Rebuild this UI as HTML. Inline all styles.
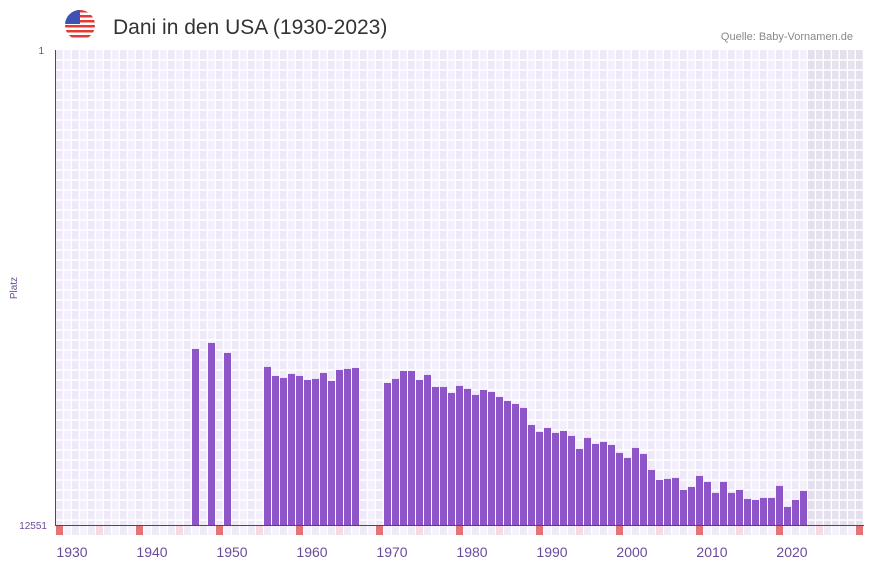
<!DOCTYPE html>
<html><head><meta charset="utf-8"><style>
body{margin:0;background:#fff;font-family:"Liberation Sans",sans-serif;}
#w{position:relative;width:873px;height:567px;overflow:hidden;}
</style></head><body>
<div id="w">
<svg id="c" width="873" height="567" xmlns="http://www.w3.org/2000/svg">
  <g>
    <clipPath id="fc"><circle cx="80" cy="25" r="15"/></clipPath>
    <g clip-path="url(#fc)">
      <rect x="65" y="10" width="30" height="30" fill="#fff"/>
      <rect x="65" y="10" width="30" height="2.5" fill="#e53935"/>
      <rect x="65" y="15" width="30" height="2.5" fill="#e53935"/>
      <rect x="65" y="20" width="30" height="2.5" fill="#e53935"/>
      <rect x="65" y="25" width="30" height="2.5" fill="#e53935"/>
      <rect x="65" y="30" width="30" height="2.5" fill="#e53935"/>
      <rect x="65" y="35" width="30" height="2.5" fill="#e53935"/>
      <rect x="65" y="10" width="15" height="14" fill="#3f51b5"/>
    </g>
  </g>
  <text x="113" y="34" font-size="21" fill="#333">Dani in den USA (1930-2023)</text>
  <text x="853" y="40" font-size="11" fill="#888" text-anchor="end">Quelle: Baby-Vornamen.de</text>
  <g id="grid"></g>
  <g id="strip"></g>
  <g id="bars"></g>
  <line x1="55.5" y1="50" x2="55.5" y2="526" stroke="#5e3592" stroke-width="1"/>
  <line x1="55" y1="525.5" x2="864" y2="525.5" stroke="#5e3592" stroke-width="1"/>
  <text x="44" y="54" font-size="10" fill="#6a4a9a" text-anchor="end">1</text>
  <text x="47" y="529" font-size="10" fill="#6a4a9a" text-anchor="end">12551</text>
  <text x="0" y="0" font-size="10" fill="#6a4a9a" text-anchor="middle" transform="translate(17,288) rotate(-90)">Platz</text>
  <g id="xt"></g>
</svg>
</div>
<script>
const years=[1946,1948,1950,1955,1956,1957,1958,1959,1960,1961,1962,1963,1964,1965,1966,
1970,1971,1972,1973,1974,1975,1976,1977,1978,1979,1980,1981,1982,1983,1984,1985,1986,1987,1988,1989,
1990,1991,1992,1993,1994,1995,1996,1997,1998,1999,2000,2001,2002,2003,2004,2005,2006,2007,2008,2009,
2010,2011,2012,2013,2014,2015,2016,2017,2018,2019,2020,2021,2022];
const ranks=[7900,7741,8005,8375,8613,8666,8560,8613,8719,8692,8534,8745,8454,8428,8402,
8798,8692,8481,8481,8719,8587,8904,8904,9062,8877,8956,9115,8983,9036,9168,9273,9353,9458,9908,10092,
9987,10119,10066,10198,10542,10251,10409,10357,10436,10647,10779,10515,10674,11096,11361,11334,11308,11625,11546,11255,
11413,11704,11413,11704,11625,11863,11889,11836,11836,11519,12074,11889,11651];
const xTicks=[1930,1940,1950,1960,1970,1980,1990,2000,2010,2020];
const yMin=1,yMax=12551;
const NS='http://www.w3.org/2000/svg';
const x0=56,slot=8,firstYear=1929,lastYear=2029,plotTop=50,plotBot=525;
function xs(y){return x0+(y-firstYear)*slot;}
function ys(r){return plotTop+(r-yMin)/(yMax-yMin)*(plotBot-plotTop);}
function mk(t,a){const e=document.createElementNS(NS,t);for(const k in a)e.setAttribute(k,a[k]);return e;}
const grid=document.getElementById('grid');
for(let y=firstYear;y<=lastYear;y++){
  const fut=y>=2023;
  const r=mk('rect',{x:xs(y),y:plotTop,width:slot,height:plotBot-plotTop,fill:fut?((y%2)?'#e3dfec':'#e7e3ee'):((y%2)?'#eee8f8':'#f3effb')});
  
  
  grid.appendChild(r);
  const l=mk('line',{x1:xs(y)+slot-0.5,y1:plotTop,x2:xs(y)+slot-0.5,y2:plotBot,stroke:'#fff','stroke-width':1.5});
  
  
  grid.appendChild(l);
}
for(let yy=plotTop+10;yy<plotBot;yy+=10){
  const l=mk('line',{x1:x0,y1:yy,x2:864,y2:yy,stroke:'#fff','stroke-width':1.5});
  
  
  grid.appendChild(l);
}
const strip=document.getElementById('strip');
for(let y=firstYear;y<=lastYear;y++){
  const d=(y-firstYear)%10;
  const c=d===0?'#e57373':d===5?'#f7d9e2':((y%2)?'#efeaf8':'#f5f2fb');
  const r=mk('rect',{x:xs(y),y:526,width:slot-1,height:9,fill:c});
  
  
  strip.appendChild(r);
}
const bars=document.getElementById('bars');
years.forEach((y,i)=>{
  const t=ys(ranks[i]);
  const r=mk('rect',{x:xs(y),y:t,width:slot-1,height:plotBot-t,fill:'#8e55c8'});
  
  
  bars.appendChild(r);
});
const xt=document.getElementById('xt');
xTicks.forEach(y=>{
  const t=mk('text',{x:xs(y)+8,y:557,'font-size':14,fill:'#6a4a9a','text-anchor':'middle'});
  t.textContent=y;
  
  
  xt.appendChild(t);
});
</script>
</body></html>
